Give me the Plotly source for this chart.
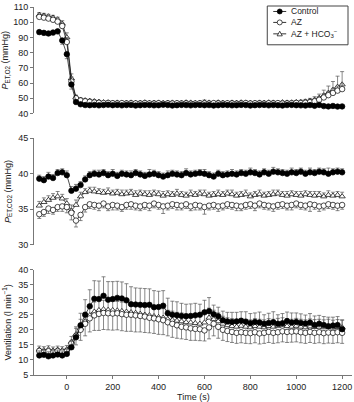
import plotly.graph_objects as go

time_s = [-120, -100, -80, -60, -40, -20, 0, 20, 40, 60, 80, 100, 120, 140, 160, 180, 200, 220,
          240, 260, 280, 300, 320, 340, 360, 380, 400, 420, 440, 460, 480, 500, 520, 540, 560,
          580, 600, 620, 640, 660, 680, 700, 720, 740, 760, 780, 800, 820, 840, 860, 880, 900,
          920, 940, 960, 980, 1000, 1020, 1040, 1060, 1080, 1100, 1120, 1140, 1160, 1180, 1200]

# ---- PET,O2 (mmHg)
o2_control = [93.5, 93.0, 92.6, 93.2, 94.0, 88.0, 79.0, 59.0, 47.5, 46.0,
              45.5, 45.4, 45.6, 45.3, 45.5, 45.7, 45.4, 45.6, 45.3, 45.5,
              45.6, 45.2, 45.4, 45.6, 45.5, 45.3, 45.4, 45.7, 45.5, 45.2,
              45.4, 45.6, 45.5, 45.3, 45.5, 45.6, 45.4, 45.5, 45.2, 45.4,
              45.6, 45.5, 45.3, 45.4, 45.6, 45.5, 45.2, 45.4, 45.5, 45.6,
              45.3, 45.5, 45.4, 45.2, 45.5, 45.6, 45.4, 45.3, 45.2, 45.5,
              45.0, 45.6, 44.8, 44.6, 44.9, 44.5, 44.6]
o2_control_err = [1.5, 1.5, 1.4, 1.5, 1.6, 2.5, 3.0, 3.0, 1.2, 0.8,
                  0.6, 0.6, 0.7, 0.6, 0.5, 0.6, 0.6, 0.7, 0.6, 0.6,
                  0.6, 0.5, 0.6, 0.6, 0.7, 0.6, 0.6, 0.5, 0.6, 0.6,
                  0.6, 0.7, 0.6, 0.6, 0.5, 0.6, 0.6, 0.6, 0.7, 0.6,
                  0.6, 0.6, 0.5, 0.6, 0.6, 0.7, 0.6, 0.6, 0.6, 0.5,
                  0.6, 0.6, 0.7, 0.6, 0.6, 0.6, 0.5, 0.6, 0.6, 0.6,
                  0.6, 0.7, 0.6, 0.6, 0.6, 0.6, 0.6]
o2_az = [103.5, 103.0, 102.4, 101.6, 100.4, 97.5, 87.0, 61.0, 50.0, 48.5,
         48.0, 47.6, 47.2, 47.0, 46.8, 46.9, 46.7, 46.6, 46.8, 46.5,
         46.7, 46.6, 46.5, 46.8, 46.6, 46.5, 46.7, 46.4, 46.6, 46.5,
         46.7, 46.5, 46.6, 46.4, 46.5, 46.7, 46.6, 46.5, 46.8, 46.6,
         46.5, 46.7, 46.6, 46.4, 46.6, 46.8, 46.5, 46.7, 46.6, 46.5,
         46.7, 46.6, 46.8, 46.5, 46.6, 46.7, 46.9, 46.8, 47.0, 47.4,
         48.0, 49.0, 50.5, 52.0, 53.5, 55.0, 56.0]
o2_az_err = [1.8, 1.7, 1.6, 1.6, 1.5, 2.0, 3.0, 3.0, 1.5, 1.2,
             1.0, 1.0, 0.9, 1.0, 1.0, 0.9, 1.0, 1.0, 1.0, 0.9,
             1.0, 1.0, 1.0, 0.9, 1.0, 1.0, 1.0, 1.0, 0.9, 1.0,
             1.0, 1.0, 0.9, 1.0, 1.0, 1.0, 1.0, 0.9, 1.0, 1.0,
             1.0, 0.9, 1.0, 1.0, 1.0, 1.0, 0.9, 1.0, 1.0, 1.0,
             1.0, 1.0, 0.9, 1.0, 1.0, 1.0, 1.1, 1.1, 1.2, 1.3,
             1.5, 2.0, 2.5, 2.5, 3.0, 3.0, 3.5]
o2_az_hco3 = [104.8, 104.3, 103.8, 103.0, 101.8, 99.0, 90.0, 63.0, 50.5, 49.0,
              48.6, 48.3, 48.0, 47.6, 47.3, 47.2, 47.0, 47.1, 46.9, 47.0,
              47.1, 46.9, 47.0, 47.2, 46.9, 47.0, 47.1, 46.8, 47.0, 47.1,
              46.9, 47.0, 47.2, 47.1, 46.9, 47.0, 47.3, 47.1, 47.0, 47.2,
              47.0, 46.9, 47.1, 47.0, 47.2, 47.1, 47.0, 46.9, 47.1, 47.0,
              47.2, 47.1, 47.0, 47.3, 47.1, 47.2, 47.4, 47.5, 47.8, 48.3,
              49.0, 50.2, 51.8, 53.5, 55.5, 57.5, 59.0]
o2_az_hco3_err = [1.5, 1.5, 1.4, 1.5, 1.5, 2.0, 3.0, 3.0, 1.5, 1.2,
                  1.0, 1.0, 0.9, 1.0, 0.8, 0.9, 1.0, 0.8, 0.9, 1.0,
                  0.9, 0.8, 1.0, 0.9, 0.8, 1.0, 0.9, 0.8, 1.0, 0.9,
                  0.8, 0.9, 1.0, 0.8, 0.9, 1.0, 1.5, 0.9, 0.8, 1.0,
                  0.9, 0.8, 1.0, 0.9, 0.8, 1.0, 0.9, 0.8, 1.0, 0.9,
                  0.8, 1.0, 0.9, 0.8, 1.0, 0.9, 1.0, 1.2, 1.4, 1.6,
                  2.0, 2.5, 3.5, 4.5, 5.5, 7.0, 8.5]

# ---- PET,CO2 (mmHg)
co2_control = [39.3, 39.1, 39.6, 39.4, 40.1, 40.2, 39.8, 37.6, 37.9, 38.4,
               39.2, 39.8, 40.0, 39.9, 40.1, 39.8, 40.0, 39.7, 40.0, 39.9,
               39.8, 40.1, 39.9, 39.7, 39.9, 40.0, 39.8, 39.6, 39.8, 40.0,
               39.9, 39.8, 40.1, 39.9, 40.0, 40.1, 40.0, 39.8, 39.6, 40.0,
               39.8, 39.9, 40.0, 39.9, 40.1, 40.0, 40.2, 40.1, 39.9, 40.2,
               40.0, 40.3, 40.2, 40.1, 40.0, 40.2, 40.1, 40.3, 40.0, 40.2,
               40.1, 40.3, 40.2, 40.0, 40.2, 40.3, 40.2]
co2_control_err = [0.5, 0.5, 0.6, 0.5, 0.5, 0.5, 0.6, 0.6, 0.6, 0.5,
                   0.5, 0.5, 0.5, 0.6, 0.5, 0.5, 0.6, 0.5, 0.5, 0.5,
                   0.6, 0.5, 0.5, 0.5, 0.7, 0.5, 0.5, 0.5, 0.6, 0.5,
                   0.5, 0.5, 0.6, 0.5, 0.5, 0.5, 0.6, 0.5, 0.5, 0.5,
                   0.5, 0.5, 0.6, 0.5, 0.5, 0.5, 0.6, 0.5, 0.5, 0.5,
                   0.5, 0.6, 0.5, 0.5, 0.5, 0.6, 0.5, 0.5, 0.5, 0.6,
                   0.5, 0.5, 0.5, 0.8, 0.5, 0.5, 0.5]
co2_az = [34.3, 34.6, 35.1, 34.9, 35.3, 35.4, 35.3, 34.5, 33.4, 34.2,
          35.3, 35.7, 35.6, 35.5, 35.8, 35.4, 35.6, 35.5, 35.3, 35.6,
          35.7, 35.5, 35.4, 35.6, 35.5, 35.8, 35.6, 35.4, 35.5, 35.7,
          35.6, 35.5, 35.7, 35.4, 35.6, 35.5, 35.3, 35.5, 35.6, 35.4,
          35.5, 35.7, 35.6, 35.5, 35.4, 35.6, 35.7, 35.5, 35.8, 35.6,
          35.5, 35.4, 35.6, 35.7, 35.5, 35.6, 35.8, 35.6, 35.5, 35.7,
          35.6, 35.4, 35.5, 35.7, 35.6, 35.5, 35.6]
co2_az_err = [0.6, 0.6, 0.7, 0.6, 0.6, 0.7, 0.8, 1.0, 0.9, 0.8,
              0.7, 0.6, 0.6, 0.7, 0.6, 0.6, 0.7, 0.6, 0.6, 0.6,
              0.7, 0.6, 0.6, 0.6, 0.7, 0.6, 0.6, 1.0, 0.6, 0.6,
              0.7, 0.6, 0.6, 0.6, 0.7, 0.6, 1.0, 0.6, 0.6, 0.7,
              0.6, 0.6, 0.6, 0.7, 0.6, 0.6, 0.6, 0.7, 0.6, 0.6,
              0.6, 0.7, 0.6, 0.6, 0.6, 0.7, 0.6, 0.6, 0.6, 1.0,
              0.6, 0.7, 0.6, 0.6, 0.6, 0.7, 0.6]
co2_az_hco3 = [35.5, 36.0, 36.3, 36.6, 36.8, 36.5, 35.8, 34.8, 35.6, 36.8,
               37.4, 37.6, 37.5, 37.4, 37.3, 37.4, 37.2, 37.3, 37.1, 37.2,
               37.3, 37.0, 37.2, 37.1, 37.0, 37.2, 37.1, 36.9, 37.1, 37.0,
               37.2, 37.0, 36.9, 37.1, 37.0, 37.2, 37.1, 36.9, 37.0, 37.1,
               37.0, 37.2, 37.1, 36.9, 37.0, 37.1, 36.8, 37.0, 37.1, 36.9,
               37.0, 37.1, 37.2, 37.0, 36.9, 37.1, 37.0, 36.9, 37.1, 37.0,
               36.9, 37.0, 36.8, 37.0, 36.9, 37.0, 36.8]
co2_az_hco3_err = [0.6, 0.6, 0.6, 0.6, 0.7, 0.6, 0.7, 0.8, 0.7, 0.6,
                   0.5, 0.5, 0.6, 0.5, 0.5, 0.6, 0.5, 0.5, 0.6, 0.5,
                   0.5, 0.6, 0.5, 0.5, 0.6, 0.5, 0.5, 0.6, 0.5, 0.5,
                   0.6, 0.5, 0.5, 0.6, 0.5, 0.5, 0.6, 0.5, 0.5, 0.6,
                   0.5, 0.5, 0.6, 0.5, 0.5, 0.6, 0.5, 0.5, 0.6, 0.5,
                   0.5, 0.6, 0.5, 0.5, 0.6, 0.5, 0.5, 0.6, 0.5, 0.5,
                   0.6, 0.5, 0.5, 0.6, 0.5, 0.5, 0.6]

# ---- Ventilation (l min-1)
ve_control = [11.5, 11.7, 11.2, 11.5, 11.8, 11.5, 12.0, 14.2, 17.5, 21.5,
              25.0, 27.8, 30.3, 30.2, 31.3, 30.0, 30.2, 30.6, 30.4, 29.8,
              28.5, 28.4, 28.3, 28.2, 28.3, 27.5, 27.6, 28.0, 25.5, 25.0,
              24.8, 24.6, 24.5, 24.6, 24.8, 25.0, 25.8, 26.2, 25.2, 24.5,
              23.2, 22.8, 22.6, 22.8, 23.0, 22.7, 22.2, 22.6, 22.4, 22.0,
              22.3, 22.5, 22.0, 22.2, 22.9, 22.4, 22.6, 22.3, 22.1, 22.4,
              21.6, 22.0, 21.6, 21.2, 21.4, 21.6, 20.2]
ve_control_err = [1.5, 1.5, 1.5, 1.5, 1.5, 1.5, 1.5, 2.0, 3.0, 4.0,
                  5.0, 5.5, 6.0, 6.0, 6.3, 6.0, 5.8, 5.5, 5.5, 5.5,
                  5.8, 5.5, 5.5, 5.5, 5.3, 5.5, 5.2, 5.0, 5.0, 4.5,
                  4.5, 4.2, 4.0, 4.0, 4.0, 3.5, 4.0, 4.5, 3.0, 3.0,
                  3.0, 3.0, 3.2, 3.0, 3.0, 3.3, 3.2, 3.0, 3.5, 3.0,
                  3.2, 3.5, 3.0, 3.2, 3.0, 3.2, 3.0, 3.0, 2.8, 3.0,
                  3.0, 2.8, 2.8, 3.0, 2.8, 2.8, 3.0]
ve_az = [13.0, 12.6, 12.9, 12.5, 13.0, 12.7, 13.0, 15.5, 18.0, 20.0,
         22.0, 23.8, 24.8, 25.3, 25.6, 25.5, 25.4, 25.5, 25.2, 25.0,
         25.0, 24.8, 24.6, 24.4, 24.0, 23.8, 23.5, 23.2, 22.5, 22.0,
         21.5, 21.0, 20.8, 20.5, 20.3, 20.2, 19.8, 20.8, 22.0, 21.0,
         20.0, 19.6, 19.3, 19.0, 19.2, 19.0, 18.9, 19.2, 18.8, 19.0,
         19.3, 19.0, 19.2, 19.5, 19.3, 19.4, 19.5, 19.2, 19.0, 19.3,
         19.0, 19.2, 18.9, 19.1, 19.0, 19.2, 19.0]
ve_az_err = [1.2, 1.2, 1.3, 1.2, 1.2, 1.3, 1.5, 2.0, 3.0, 3.5,
             4.0, 4.5, 5.0, 5.5, 5.5, 5.5, 5.5, 5.5, 5.5, 5.5,
             5.5, 5.5, 5.3, 5.3, 5.0, 5.0, 5.0, 4.8, 4.5, 4.5,
             4.3, 4.0, 4.0, 4.0, 3.8, 3.8, 3.5, 3.8, 4.0, 3.8,
             3.5, 3.5, 3.5, 3.5, 3.5, 3.5, 3.5, 3.5, 3.5, 3.5,
             3.5, 3.5, 3.5, 3.5, 3.5, 3.5, 3.5, 3.5, 3.5, 3.5,
             3.5, 3.5, 3.5, 3.5, 3.5, 3.5, 3.5]
ve_az_hco3 = [13.4, 13.2, 13.5, 13.1, 13.4, 13.2, 13.5, 16.0, 18.5, 20.5,
              22.8, 24.8, 26.0, 26.5, 26.8, 26.6, 26.5, 26.4, 26.2, 26.0,
              25.8, 25.6, 25.3, 25.0, 24.8, 24.5, 24.2, 24.0, 23.5, 23.2,
              23.0, 22.8, 22.5, 22.4, 22.2, 22.0, 22.4, 24.0, 23.5, 22.8,
              22.0, 21.5, 21.2, 21.0, 21.3, 21.0, 20.8, 21.2, 21.0, 20.8,
              21.2, 21.0, 21.3, 21.5, 21.2, 21.0, 21.3, 21.0, 20.8, 21.1,
              20.9, 21.0, 20.8, 21.0, 20.7, 20.9, 20.8]
ve_az_hco3_err = [1.2, 1.2, 1.2, 1.2, 1.2, 1.2, 1.3, 1.8, 2.5, 3.0,
                  3.0, 3.0, 3.2, 3.2, 3.0, 3.0, 3.0, 3.0, 3.0, 3.0,
                  3.0, 3.0, 3.0, 3.0, 3.0, 3.0, 3.0, 3.0, 3.0, 3.0,
                  2.8, 2.8, 2.8, 2.8, 2.8, 2.8, 3.0, 3.2, 3.0, 2.8,
                  2.5, 2.5, 2.5, 2.5, 2.5, 2.5, 2.5, 2.5, 2.5, 2.5,
                  2.5, 2.5, 2.5, 2.5, 2.5, 2.5, 2.5, 2.5, 2.5, 2.5,
                  2.5, 2.5, 2.5, 2.5, 2.5, 2.5, 2.5]

series_names = ["Control", "AZ", "AZ + HCO<sub>3</sub><sup>\u2212</sup>"]
x_ticks = [0, 200, 400, 600, 800, 1000, 1200]

FONT = "Liberation Sans, Arial, sans-serif"
AXIS_COL = "#777777"
ERR_COL = "#555555"
TXT = "#222222"

W, H = 354, 402
ML, MR, MT, MB = 33, 2, 5, 27
PW, PH = W - ML - MR, H - MT - MB


def px_x(px):
    return (px - ML) / PW


def px_y(py):
    return (H - MB - py) / PH


styles = {
    "Control": dict(symbol="circle", fill="black"),
    "AZ": dict(symbol="circle", fill="white"),
    "HCO3": dict(symbol="triangle-up", fill="white"),
}

fig = go.Figure()


def add(xaxis, yaxis, y, err, key, name, up):
    st = styles[key]
    ey = dict(type="data", symmetric=False,
              array=err if up else [0] * len(err),
              arrayminus=[0] * len(err) if up else err,
              color=ERR_COL, thickness=0.7, width=2)
    fig.add_trace(go.Scatter(
        x=time_s, y=y, mode="lines+markers", name=name,
        xaxis=xaxis, yaxis=yaxis, showlegend=False,
        line=dict(color="black", width=0.7),
        marker=dict(symbol=st["symbol"], size=5.5, color=st["fill"],
                    line=dict(color="black", width=0.7)),
        error_y=ey))


# top panel
add("x", "y", o2_az_hco3, o2_az_hco3_err, "HCO3", series_names[2], True)
add("x", "y", o2_az, o2_az_err, "AZ", series_names[1], True)
add("x", "y", o2_control, o2_control_err, "Control", series_names[0], False)
# middle panel
add("x2", "y2", co2_az_hco3, co2_az_hco3_err, "HCO3", series_names[2], True)
add("x2", "y2", co2_az, co2_az_err, "AZ", series_names[1], False)
add("x2", "y2", co2_control, co2_control_err, "Control", series_names[0], True)
# bottom panel
add("x3", "y3", ve_az_hco3, ve_az_hco3_err, "HCO3", series_names[2], True)
add("x3", "y3", ve_az, ve_az_err, "AZ", series_names[1], False)
add("x3", "y3", ve_control, ve_control_err, "Control", series_names[0], True)

# ---- legend box drawn as layout shapes + annotations
shapes = [dict(type="rect", xref="paper", yref="paper",
               x0=px_x(267), x1=px_x(348), y0=px_y(43), y1=px_y(4),
               line=dict(color="#444", width=1), fillcolor="white", layer="above")]
annotations = []
rows_py = [9.5, 20.5, 32]
keys = ["Control", "AZ", "HCO3"]
for key, name, py in zip(keys, series_names, rows_py):
    yy = px_y(py)
    shapes.append(dict(type="line", xref="paper", yref="paper",
                       x0=px_x(273), x1=px_x(286), y0=yy, y1=yy,
                       line=dict(color="black", width=0.8), layer="above"))
    fill = styles[key]["fill"]
    if key == "HCO3":
        shapes.append(dict(type="path", xref="paper", yref="paper",
                           xsizemode="pixel", ysizemode="pixel",
                           xanchor=px_x(279.5), yanchor=yy,
                           path="M -2.6,-2 L 2.6,-2 L 0,2.6 Z",
                           fillcolor=fill, line=dict(color="black", width=0.7), layer="above"))
    else:
        shapes.append(dict(type="circle", xref="paper", yref="paper",
                           xsizemode="pixel", ysizemode="pixel",
                           xanchor=px_x(279.5), yanchor=yy,
                           x0=-2.5, x1=2.5, y0=-2.5, y1=2.5,
                           fillcolor=fill, line=dict(color="black", width=0.7), layer="above"))
    annotations.append(dict(text=name, xref="paper", yref="paper", x=px_x(289), y=yy,
                            xanchor="left", yanchor="middle", showarrow=False,
                            font=dict(size=8.5, color=TXT)))

annotations.append(dict(text="Time (s)", xref="paper", yref="paper", x=0.5, y=px_y(397),
                        xanchor="center", yanchor="middle", showarrow=False,
                        font=dict(size=9, color=TXT)))

xr = [-143, 1243]
hidden_x = dict(range=xr, visible=False, showgrid=False, zeroline=False)
yax = dict(showline=True, linecolor=AXIS_COL, linewidth=1, ticks="outside", ticklen=3,
           tickcolor=AXIS_COL, showgrid=False, zeroline=False,
           tickfont=dict(size=9, color=TXT), title_font=dict(size=9, color=TXT),
           title_standoff=5)

fig.update_layout(
    width=W, height=H,
    margin=dict(l=ML, r=MR, t=MT, b=MB),
    paper_bgcolor="white", plot_bgcolor="white",
    font=dict(family=FONT, size=9, color=TXT),
    showlegend=False,
    xaxis=dict(domain=[0, 1], anchor="y", **hidden_x),
    xaxis2=dict(domain=[0, 1], anchor="y2", **hidden_x),
    xaxis3=dict(domain=[0, 1], anchor="y3", range=xr, showline=True, linecolor=AXIS_COL,
                linewidth=1, ticks="outside", ticklen=3, tickcolor=AXIS_COL,
                tickvals=x_ticks, showgrid=False, zeroline=False, automargin=False,
                tickfont=dict(size=9, color=TXT)),
    yaxis=dict(domain=[px_y(112), 1.0], anchor="x", range=[40, 110],
               tickvals=[40, 50, 60, 70, 80, 90, 100, 110],
               title=dict(text="<i>P</i><sub>ET,O2</sub> (mmHg)"), **yax),
    yaxis2=dict(domain=[px_y(244), px_y(137)], anchor="x2", range=[30, 45], tickvals=[30, 35, 40, 45],
                title=dict(text="<i>P</i><sub>ET,CO2</sub> (mmHg)"), **yax),
    yaxis3=dict(domain=[0, px_y(269)], anchor="x3", range=[5, 40],
                tickvals=[5, 10, 15, 20, 25, 30, 35, 40],
                title=dict(text="Ventilation (l min<sup>\u22121</sup>)"), **yax),
    shapes=shapes,
    annotations=annotations,
)

fig.write_html("out.html", config={"displayModeBar": False},
               post_script="document.body.style.margin='0';")
